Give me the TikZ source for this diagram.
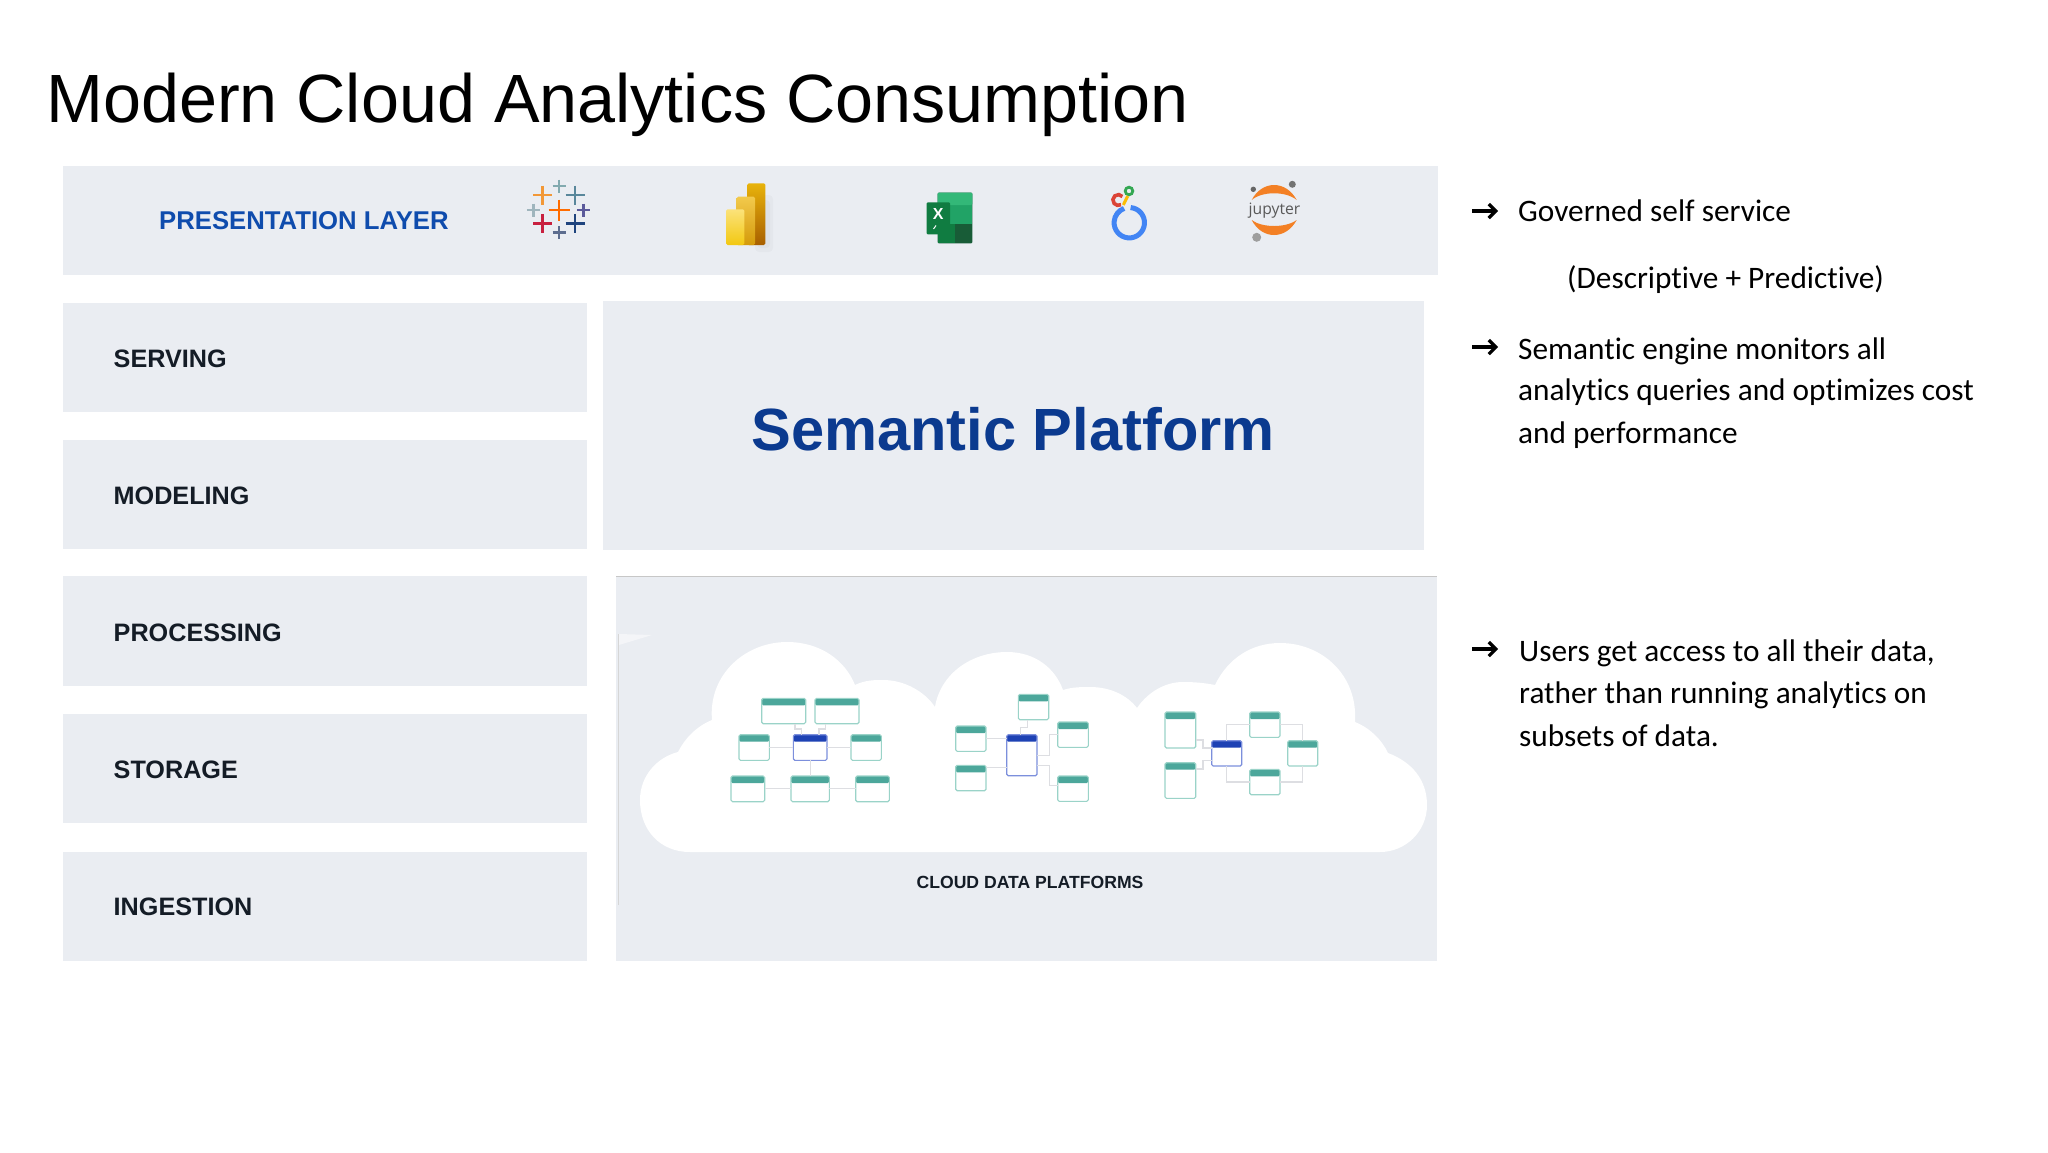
\documentclass[tikz,border=0pt]{standalone}
\usepackage{fontspec}
\setmainfont{Liberation Sans}
\newfontfamily\carl[Ligatures=NoCommon]{Carlito}
\newfontfamily\opens{Open Sans}
\usetikzlibrary{arrows.meta,calc}
\definecolor{panelc}{HTML}{EAEDF2}
\definecolor{inkc}{HTML}{141C26}
\definecolor{tealh}{HTML}{4CA79B}
\definecolor{teall}{HTML}{9AD3C8}
\definecolor{blueh}{HTML}{1E42B4}
\definecolor{bluel}{HTML}{7C8FDC}
\definecolor{connc}{HTML}{DDDEE2}
\newcommand{\fs}[1]{\fontsize{#1}{#1}\selectfont}
\tikzset{
  panel/.style={fill=panelc,draw=none,inner sep=0,outer sep=0},
  lay/.style={anchor=west,inner sep=0,font=\bfseries\fs{25.2},text=inkc},
  side/.style={anchor=base west,inner sep=0,font=\carl\fs{31.3},text=black},
  tbl/.style={draw=teall,line width=1.1,fill=white,rounded corners=1.5,inner sep=0,outer sep=0,
    path picture={\fill[tealh] (path picture bounding box.north west) rectangle ([yshift=-7pt]path picture bounding box.north east);}},
  tblb/.style={draw=bluel,line width=1.1,fill=white,rounded corners=1.5,inner sep=0,outer sep=0,
    path picture={\fill[blueh] (path picture bounding box.north west) rectangle ([yshift=-7pt]path picture bounding box.north east);}},
  conn/.style={draw=connc,line width=1.1},
  barrow/.style={line width=3.2,-{Straight Barb[length=7pt,width=14pt,line width=3.2pt]}},
  crossb/.style={line width=2.8},
}
% name, x1,y1,x2,y2, style
\newcommand{\tb}[6]{\node[#6,minimum width={(#4-#2)*1pt},minimum height={(#5-#3)*1pt}] (#1) at ({(#2+#4)/2},{(#3+#5)/2}) {};}
\newcommand{\pn}[5]{\node[panel,minimum width={(#4-#2)*1pt},minimum height={(#5-#3)*1pt}] (#1) at ({(#2+#4)/2},{(#3+#5)/2}) {};}
\newcommand{\tcross}[4]{\draw[crossb,#4] (#1-#3,#2) -- (#1+#3,#2) (#1,#2-#3) -- (#1,#2+#3);}
\begin{document}
\begin{tikzpicture}[x=1pt,y=-1pt]
\useasboundingbox (0,0) rectangle (2048,1152);
\fill[white] (0,0) rectangle (2048,1152);
\node[anchor=base west,inner sep=0,font=\fs{68.3},text=black] (title) at (46,122.5) {Modern Cloud Analytics Consumption};
% panels
\pn{pres}{63}{166}{1438}{275}
\pn{serving}{63}{303}{587}{412}
\pn{modeling}{63}{440}{587}{549}
\pn{processing}{63}{576}{587}{686}
\pn{storage}{63}{714}{587}{823}
\pn{ingestion}{63}{852}{587}{961}
\pn{semantic}{603}{301}{1424}{550}
\pn{cloudp}{616}{576}{1437}{961}
\draw[line width=1,draw=black!22] (cloudp.north west) -- (cloudp.north east);
\draw[line width=1,draw=black!16] (618,634) -- (618,905);
\fill[white!45!panelc] (619,634) -- (652,635) -- (619,645) -- cycle;
% labels
\node[lay,font=\bfseries\fs{25.7},text={rgb,255:red,15;green,76;blue,173}] (lpres) at (159,221) {PRESENTATION LAYER};
\node[lay] (lserv) at (113.5,359) {SERVING};
\node[lay] (lmod) at (113.5,496) {MODELING};
\node[lay] (lproc) at (113.5,633) {PROCESSING};
\node[lay] (lstor) at (113.5,770) {STORAGE};
\node[lay] (ling) at (113.5,907) {INGESTION};
\node[inner sep=0,font=\bfseries\fs{59.6},text={rgb,255:red,11;green,58;blue,143}] (lsem) at (1013,429) {Semantic Platform};
% tableau
\tcross{559}{210}{10.5}{color=orange!85!red}
\tcross{559}{186}{6.5}{color={rgb,255:red,130;green,170;blue,175}}
\tcross{542.7}{195}{9.5}{color={rgb,255:red,242;green,152;blue,55}}
\tcross{575}{195}{9.5}{color={rgb,255:red,89;green,135;blue,155}}
\tcross{533.3}{210}{6.5}{color={rgb,255:red,159;green,181;blue,189}}
\tcross{583.3}{210}{6.5}{color={rgb,255:red,91;green,90;blue,155}}
\tcross{542.7}{223.3}{9.5}{color={rgb,255:red,200;green,32;blue,63}}
\tcross{575}{223.3}{9.5}{color={rgb,255:red,31;green,68;blue,126}}
\tcross{559}{232.7}{6.5}{color={rgb,255:red,93;green,109;blue,143}}
% power bi
\fill[black,opacity=.025,rounded corners=4] (755,195) rectangle (773,252);
\fill[black,opacity=.025,rounded corners=4] (757,200) rectangle (770,248);
\shade[rounded corners=1.5,top color={rgb,255:red,232;green,179;blue,11},bottom color={rgb,255:red,168;green,95;blue,0}] (747.3,183.3) rectangle (765.3,245);
\shade[rounded corners=1.5,top color={rgb,255:red,242;green,201;blue,76},bottom color={rgb,255:red,212;green,154;blue,10}] (736.7,196.7) rectangle (755,245);
\shade[rounded corners=1.5,top color={rgb,255:red,251;green,226;blue,122},bottom color={rgb,255:red,242;green,200;blue,17}] (726,209.3) rectangle (744.3,245);
% excel
\fill[rounded corners=1,color={rgb,255:red,24;green,92;blue,55}] (937.7,192.7) rectangle (972.3,243.3);
\fill[color={rgb,255:red,33;green,163;blue,102}] (937.7,205) rectangle (972.3,224);
\fill[rounded corners=1,color={rgb,255:red,51;green,184;blue,120}] (937.7,192.7) rectangle (972.3,205);
\fill[color={rgb,255:red,16;green,124;blue,65}] (937.7,224) rectangle (955,243.3);
\fill[rounded corners=1,color={rgb,255:red,16;green,124;blue,65}] (926.7,202.3) rectangle (950,234.3);
\node[inner sep=0,text=white,font=\bfseries\fs{16}] (xl) at (938.3,213.5) {X};
\draw[white,line width=1] (933.5,229) -- (936,225.5);
% looker
\draw[line width=5,color={rgb,255:red,66;green,133;blue,244}] (1129.3,222.7) ++(-85:15.2) arc[start angle=-85,end angle=250,radius=15.2];
\draw[line width=3.6,color={rgb,255:red,219;green,68;blue,55}] (1118.3,200) ++(-40:5.4) arc[start angle=-40,end angle=-300,radius=5.4];
\draw[line width=2.8,color={rgb,255:red,52;green,168;blue,83}] (1129,191) circle[radius=3.8];
\draw[line width=3,color={rgb,255:red,251;green,188;blue,4}] (1127.7,196) -- (1123.3,205);
% jupyter
\fill[color={rgb,255:red,243;green,128;blue,37}] (1251.7,200) .. controls (1262,180) and (1286,180) .. (1296.7,200) .. controls (1286,191) and (1262,191) .. (1251.7,200) -- cycle;
\fill[color={rgb,255:red,243;green,128;blue,37}] (1251.7,220) .. controls (1262,240) and (1286,240) .. (1296.7,220) .. controls (1286,228) and (1262,228) .. (1251.7,220) -- cycle;
\node[inner sep=0,font=\opens\fs{15.7},text=black!65] (jup) at (1274.5,211) {jupyter};
\fill[black!60] (1253.3,189.3) circle[radius=2.7];
\fill[black!55] (1292.3,184.3) circle[radius=3.5];
\fill[black!38] (1256.7,237.3) circle[radius=4.5];
% cloud
\fill[white] (690,852) .. controls (660,852) and (640,830) .. (640,800) .. controls (640,775) and (658,757) .. (678,752)
 .. controls (685,738) and (697,726) .. (712,720)
 .. controls (708,675) and (745,642) .. (787,642) .. controls (820,642) and (845,660) .. (855,685)
 .. controls (865,680) and (875,680) .. (883,680) .. controls (905,680) and (925,692) .. (935,707)
 .. controls (940,675) and (970,652) .. (1007,652) .. controls (1035,652) and (1055,668) .. (1063,690)
 .. controls (1072,687) and (1082,687) .. (1090,687) .. controls (1110,687) and (1127,695) .. (1137,708)
 .. controls (1148,692) and (1165,682) .. (1183,682) .. controls (1195,682) and (1205,683) .. (1215,685)
 .. controls (1228,658) and (1252,643) .. (1280,643) .. controls (1322,643) and (1358,675) .. (1355,722)
 .. controls (1370,728) and (1382,740) .. (1388,753)
 .. controls (1412,762) and (1427,780) .. (1427,805) .. controls (1427,832) and (1405,852) .. (1380,852) -- cycle;
\node[inner sep=0,font=\bfseries\fs{17.6},text=inkc] (lcloud) at (1030,882) {CLOUD DATA PLATFORMS};
% cloud 1
\tb{aa}{761.7}{698.3}{805.7}{723.7}{tbl}
\tb{ab}{815}{698.3}{859}{723.7}{tbl}
\tb{ba}{739}{734.7}{769.3}{760.3}{tbl}
\tb{bb}{793.3}{734.7}{827}{760.3}{tblb}
\tb{bc}{851}{734.7}{881.3}{760.3}{tbl}
\tb{ca}{731}{776}{764.7}{801.7}{tbl}
\tb{cb}{791}{776}{829.3}{801.7}{tbl}
\tb{cc}{855.7}{776}{889.3}{801.7}{tbl}
\draw[conn] ([xshift=11.3pt]aa.south) -- ++(0,5.3) -| ([xshift=-8.5pt]bb.north);
\draw[conn] ([xshift=-11.3pt]ab.south) -- ++(0,5.3) -| ([xshift=8.85pt]bb.north);
\draw[conn] (ba) -- (bb);
\draw[conn] (bb) -- (bc);
\draw[conn] (bb) -- (cb);
\draw[conn] (ca) -- (cb);
\draw[conn] (cb) -- (cc);
% cloud 2
\tb{da}{1018.3}{694.3}{1048.7}{719.7}{tbl}
\tb{db}{955.7}{726}{986}{751.3}{tbl}
\tb{dc}{955.7}{765.3}{986}{790.7}{tbl}
\tb{dd}{1006.7}{734.7}{1037}{775.7}{tblb}
\tb{de}{1057.7}{722}{1088.3}{747.3}{tbl}
\tb{df}{1057.7}{776}{1088.3}{801.3}{tbl}
\draw[conn] ([xshift=-6.2pt]da.south) -- ++(0,7.6) -| ([xshift=-1.15pt]dd.north);
\draw[conn] (db.east) -- (db.east -| dd.west);
\draw[conn] ([yshift=10.3pt]dc.east) -- ([yshift=10.3pt]dc.east -| dd.west);
\draw[conn] (dd.east) -- ++(12.3,0) |- (de.west);
\draw[conn] ([yshift=-10.5pt]dd.east) -- ++(12.3,0) |- ([yshift=3.6pt]df.west);
% cloud 3
\tb{ea}{1165}{712}{1195.7}{748}{tbl}
\tb{eb}{1165}{762.7}{1195.7}{798.3}{tbl}
\tb{ec}{1211.7}{740.7}{1241.7}{766}{tblb}
\tb{fa}{1249.7}{712}{1280}{737.3}{tbl}
\tb{fb}{1287.7}{740.7}{1317.7}{766}{tbl}
\tb{fc}{1249.7}{769.3}{1280}{794.7}{tbl}
\draw[conn] ([yshift=-10pt]ea.east) -- ++(7.3,0) |- ([yshift=5.35pt]ec.west);
\draw[conn] ([yshift=11.5pt]eb.east) -- ++(7.3,0) |- ([yshift=-7.35pt]ec.west);
\draw[conn] (ec.north) |- (fa.west);
\draw[conn] (ec.south) |- (fc.west);
\draw[conn] (fa.east) -| (fb.north);
\draw[conn] (fc.east) -| (fb.south);
% side text
\coordinate (a1s) at (1472,211); \coordinate (a1e) at (1498,211);
\coordinate (a2s) at (1472,347); \coordinate (a2e) at (1498,347);
\coordinate (a3s) at (1472,649); \coordinate (a3e) at (1498,649);
\draw[barrow] (a1s) -- (a1e);
\draw[barrow] (a2s) -- (a2e);
\draw[barrow] (a3s) -- (a3e);
\node[side] (s1) at (1518,221) {Governed self service};
\node[side] (s2) at (1567,288.5) {(Descriptive + Predictive)};
\node[side] (s3) at (1518,359) {Semantic engine monitors all};
\node[side] (s4) at (1518,400.5) {analytics queries and optimizes cost};
\node[side] (s5) at (1518,443.5) {and performance};
\node[side] (s6) at (1519,661) {Users get access to all their data,};
\node[side] (s7) at (1519,703.5) {rather than running analytics on};
\node[side] (s8) at (1519,746) {subsets of data.};
\end{tikzpicture}
\end{document}
